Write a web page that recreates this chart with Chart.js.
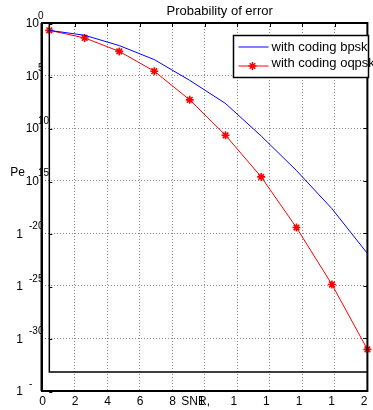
<!DOCTYPE html>
<html>
<head>
<meta charset="utf-8">
<script src="https://cdn.jsdelivr.net/npm/chart.js@4/dist/chart.umd.min.js"></script>
<style>
    html, body { margin: 0; padding: 0; background: #fff; }
    canvas { display: block; }
</style>
</head>
<body>
<canvas id="peChart" width="373" height="410"></canvas>
<script>
// Values (SNR vs Pe, log y axis)
const snr = [0.45, 2.62, 4.75, 6.9, 9.08, 11.28, 13.47, 15.64, 17.82, 20];
const peBpsk = [2.0e-1, 6.8e-2, 7.1e-3, 3.3e-4, 3.5e-6, 2.2e-8, 1.8e-11, 9.3e-15, 2.2e-18, 1.2e-22];
const peOqpsk = [2.0e-1, 3.8e-2, 2.0e-3, 2.6e-5, 4.9e-8, 2.1e-11, 2.3e-15, 3.5e-20, 1.35e-25, 9.1e-32];

// Axis ticks and their (clipped) labels as they appear in the picture
const xTicks = [0, 2, 4, 6, 8, 10, 12, 14, 16, 18, 20];
const xTickText = ['0', '2', '4', '6', '8', '1', '1', '1', '1', '1', '2'];
const yTicks = [1, 1e-5, 1e-10, 1e-15, 1e-20, 1e-25, 1e-30, 1e-35];
const yTickBase = ['10', '10', '10', '10', '1', '1', '1', '1'];
const yTickSup = ['0', '5', '10', '15', '-20', '-25', '-30', '-'];

const FONT = '"Liberation Sans", Arial, sans-serif';

// Draws title, tick labels, axis box and the legend
const decorPlugin = {
    id: 'decor',
    afterDraw(chart) {
        const ctx = chart.ctx;
        const area = chart.chartArea;
        const xs = chart.scales.x;
        const ys = chart.scales.y;
        ctx.save();

        // inner axes box (starts at first data point)
        const innerLeft = xs.getPixelForValue(snr[0]);
        const innerBottom = ys.getPixelForValue(Math.pow(10, -33.2));
        ctx.strokeStyle = '#000';
        ctx.lineWidth = 1.5;
        ctx.beginPath();
        ctx.moveTo(innerLeft, area.top);
        ctx.lineTo(innerLeft, innerBottom);
        ctx.lineTo(area.right, innerBottom);
        ctx.stroke();

        // outer box
        ctx.lineWidth = 2;
        ctx.beginPath();
        ctx.moveTo(area.left, area.top);
        ctx.lineTo(area.right, area.top);
        ctx.lineTo(area.right, area.bottom);
        ctx.lineTo(area.left, area.bottom);
        ctx.closePath();
        ctx.stroke();
        ctx.lineWidth = 1;
        ctx.beginPath();
        ctx.moveTo(area.left - 1, area.top);
        ctx.lineTo(area.left - 1, area.bottom);
        ctx.stroke();

        // small tick marks
        ctx.lineWidth = 1;
        ctx.beginPath();
        xTicks.forEach(v => {
            const px = Math.round(xs.getPixelForValue(v)) + 0.5;
            ctx.moveTo(px, area.top);
            ctx.lineTo(px, area.top + 4);
        });
        yTicks.forEach(v => {
            const py = Math.round(ys.getPixelForValue(v)) + 0.5;
            ctx.moveTo(area.right, py);
            ctx.lineTo(area.right - 4, py);
            ctx.moveTo(innerLeft, py + 1);
            ctx.lineTo(innerLeft + 3, py + 1);
        });
        ctx.stroke();

        ctx.fillStyle = '#000';

        // x tick labels
        ctx.font = '12px ' + FONT;
        ctx.textBaseline = 'middle';
        xTicks.forEach((v, i) => {
            const px = xs.getPixelForValue(v);
            ctx.textAlign = v >= 10 ? 'right' : 'center';
            ctx.fillText(xTickText[i], px + (v >= 10 ? 0 : 0.5), area.bottom + 11);
        });
        ctx.textAlign = 'center';
        ctx.fillText('SNR,', (area.left + area.right) / 2 - 9, area.bottom + 11);

        // y tick labels with superscripts
        yTicks.forEach((v, i) => {
            const py = ys.getPixelForValue(v);
            const wide = yTickBase[i] === '10';
            ctx.font = '12px ' + FONT;
            ctx.textAlign = 'right';
            ctx.fillText(yTickBase[i], wide ? area.left - 3 : area.left - 19, py + 1);
            ctx.font = '10px ' + FONT;
            ctx.textAlign = 'left';
            ctx.fillText(yTickSup[i], wide ? area.left - 4 : area.left - 13, py - 7);
        });
        ctx.font = '12px ' + FONT;
        ctx.textAlign = 'right';
        ctx.fillText('Pe', area.left - 17, ys.getPixelForValue(1e-15) - 8);

        // title
        ctx.font = '13px ' + FONT;
        ctx.textAlign = 'center';
        ctx.fillText('Probability of error', (area.left + area.right) / 2 + 15, 11);

        // legend box
        const lx = 233.5, ly = 35.5, lw = 135, lh = 42;
        ctx.fillStyle = '#fff';
        ctx.fillRect(lx, ly, lw, lh);
        ctx.strokeStyle = '#000';
        ctx.lineWidth = 1.5;
        ctx.strokeRect(lx, ly, lw, lh);
        const rows = [ly + 11.5, ly + 30.5];
        chart.data.datasets.forEach((ds, i) => {
            const y = rows[i];
            ctx.strokeStyle = ds.borderColor;
            ctx.lineWidth = 1;
            ctx.beginPath();
            ctx.moveTo(lx + 5, y);
            ctx.lineTo(lx + 35, y);
            ctx.stroke();
            if (ds.pointStyle === 'star') {
                const cx = lx + 19, r = 4;
                ctx.lineWidth = 1.5;
                ctx.beginPath();
                ctx.moveTo(cx - r, y); ctx.lineTo(cx + r, y);
                ctx.moveTo(cx, y - r); ctx.lineTo(cx, y + r);
                ctx.moveTo(cx - r * 0.7, y - r * 0.7); ctx.lineTo(cx + r * 0.7, y + r * 0.7);
                ctx.moveTo(cx - r * 0.7, y + r * 0.7); ctx.lineTo(cx + r * 0.7, y - r * 0.7);
                ctx.stroke();
            }
            ctx.fillStyle = '#000';
            ctx.font = '13px ' + FONT;
            ctx.textAlign = 'left';
            ctx.fillText(ds.label, lx + 38, i === 0 ? y : y - 3);
        });

        ctx.restore();
    }
};

const ctx = document.getElementById('peChart').getContext('2d');
new Chart(ctx, {
    type: 'line',
    data: {
        datasets: [
            {
                label: 'with coding bpsk',
                data: snr.map((x, i) => ({ x: x, y: peBpsk[i] })),
                borderColor: '#0000ff',
                backgroundColor: '#0000ff',
                borderWidth: 1,
                pointRadius: 0,
                tension: 0
            },
            {
                label: 'with coding oqpsk',
                data: snr.map((x, i) => ({ x: x, y: peOqpsk[i] })),
                borderColor: '#ff0000',
                backgroundColor: '#ff0000',
                borderWidth: 1,
                pointStyle: 'star',
                pointRadius: 4,
                pointBorderWidth: 1.6,
                tension: 0
            }
        ]
    },
    options: {
        responsive: false,
        devicePixelRatio: 1,
        animation: false,
        clip: false,
        layout: {
            padding: { left: 42, top: 23, right: 1, bottom: 19 }
        },
        plugins: {
            legend: { display: false },
            title: { display: false },
            tooltip: { enabled: false }
        },
        scales: {
            x: {
                type: 'linear',
                min: 0,
                max: 20,
                afterBuildTicks: scale => { scale.ticks = xTicks.map(v => ({ value: v })); },
                ticks: { display: false },
                grid: { color: '#8a8a8a', lineWidth: 1, drawTicks: false },
                border: { display: false, dash: [1, 2] }
            },
            y: {
                type: 'logarithmic',
                min: 1e-35,
                max: 1,
                afterBuildTicks: scale => { scale.ticks = yTicks.map(v => ({ value: v })); },
                ticks: { display: false },
                grid: { color: '#8a8a8a', lineWidth: 1, drawTicks: false },
                border: { display: false, dash: [1, 2] }
            }
        }
    },
    plugins: [decorPlugin]
});
</script>
</body>
</html>
